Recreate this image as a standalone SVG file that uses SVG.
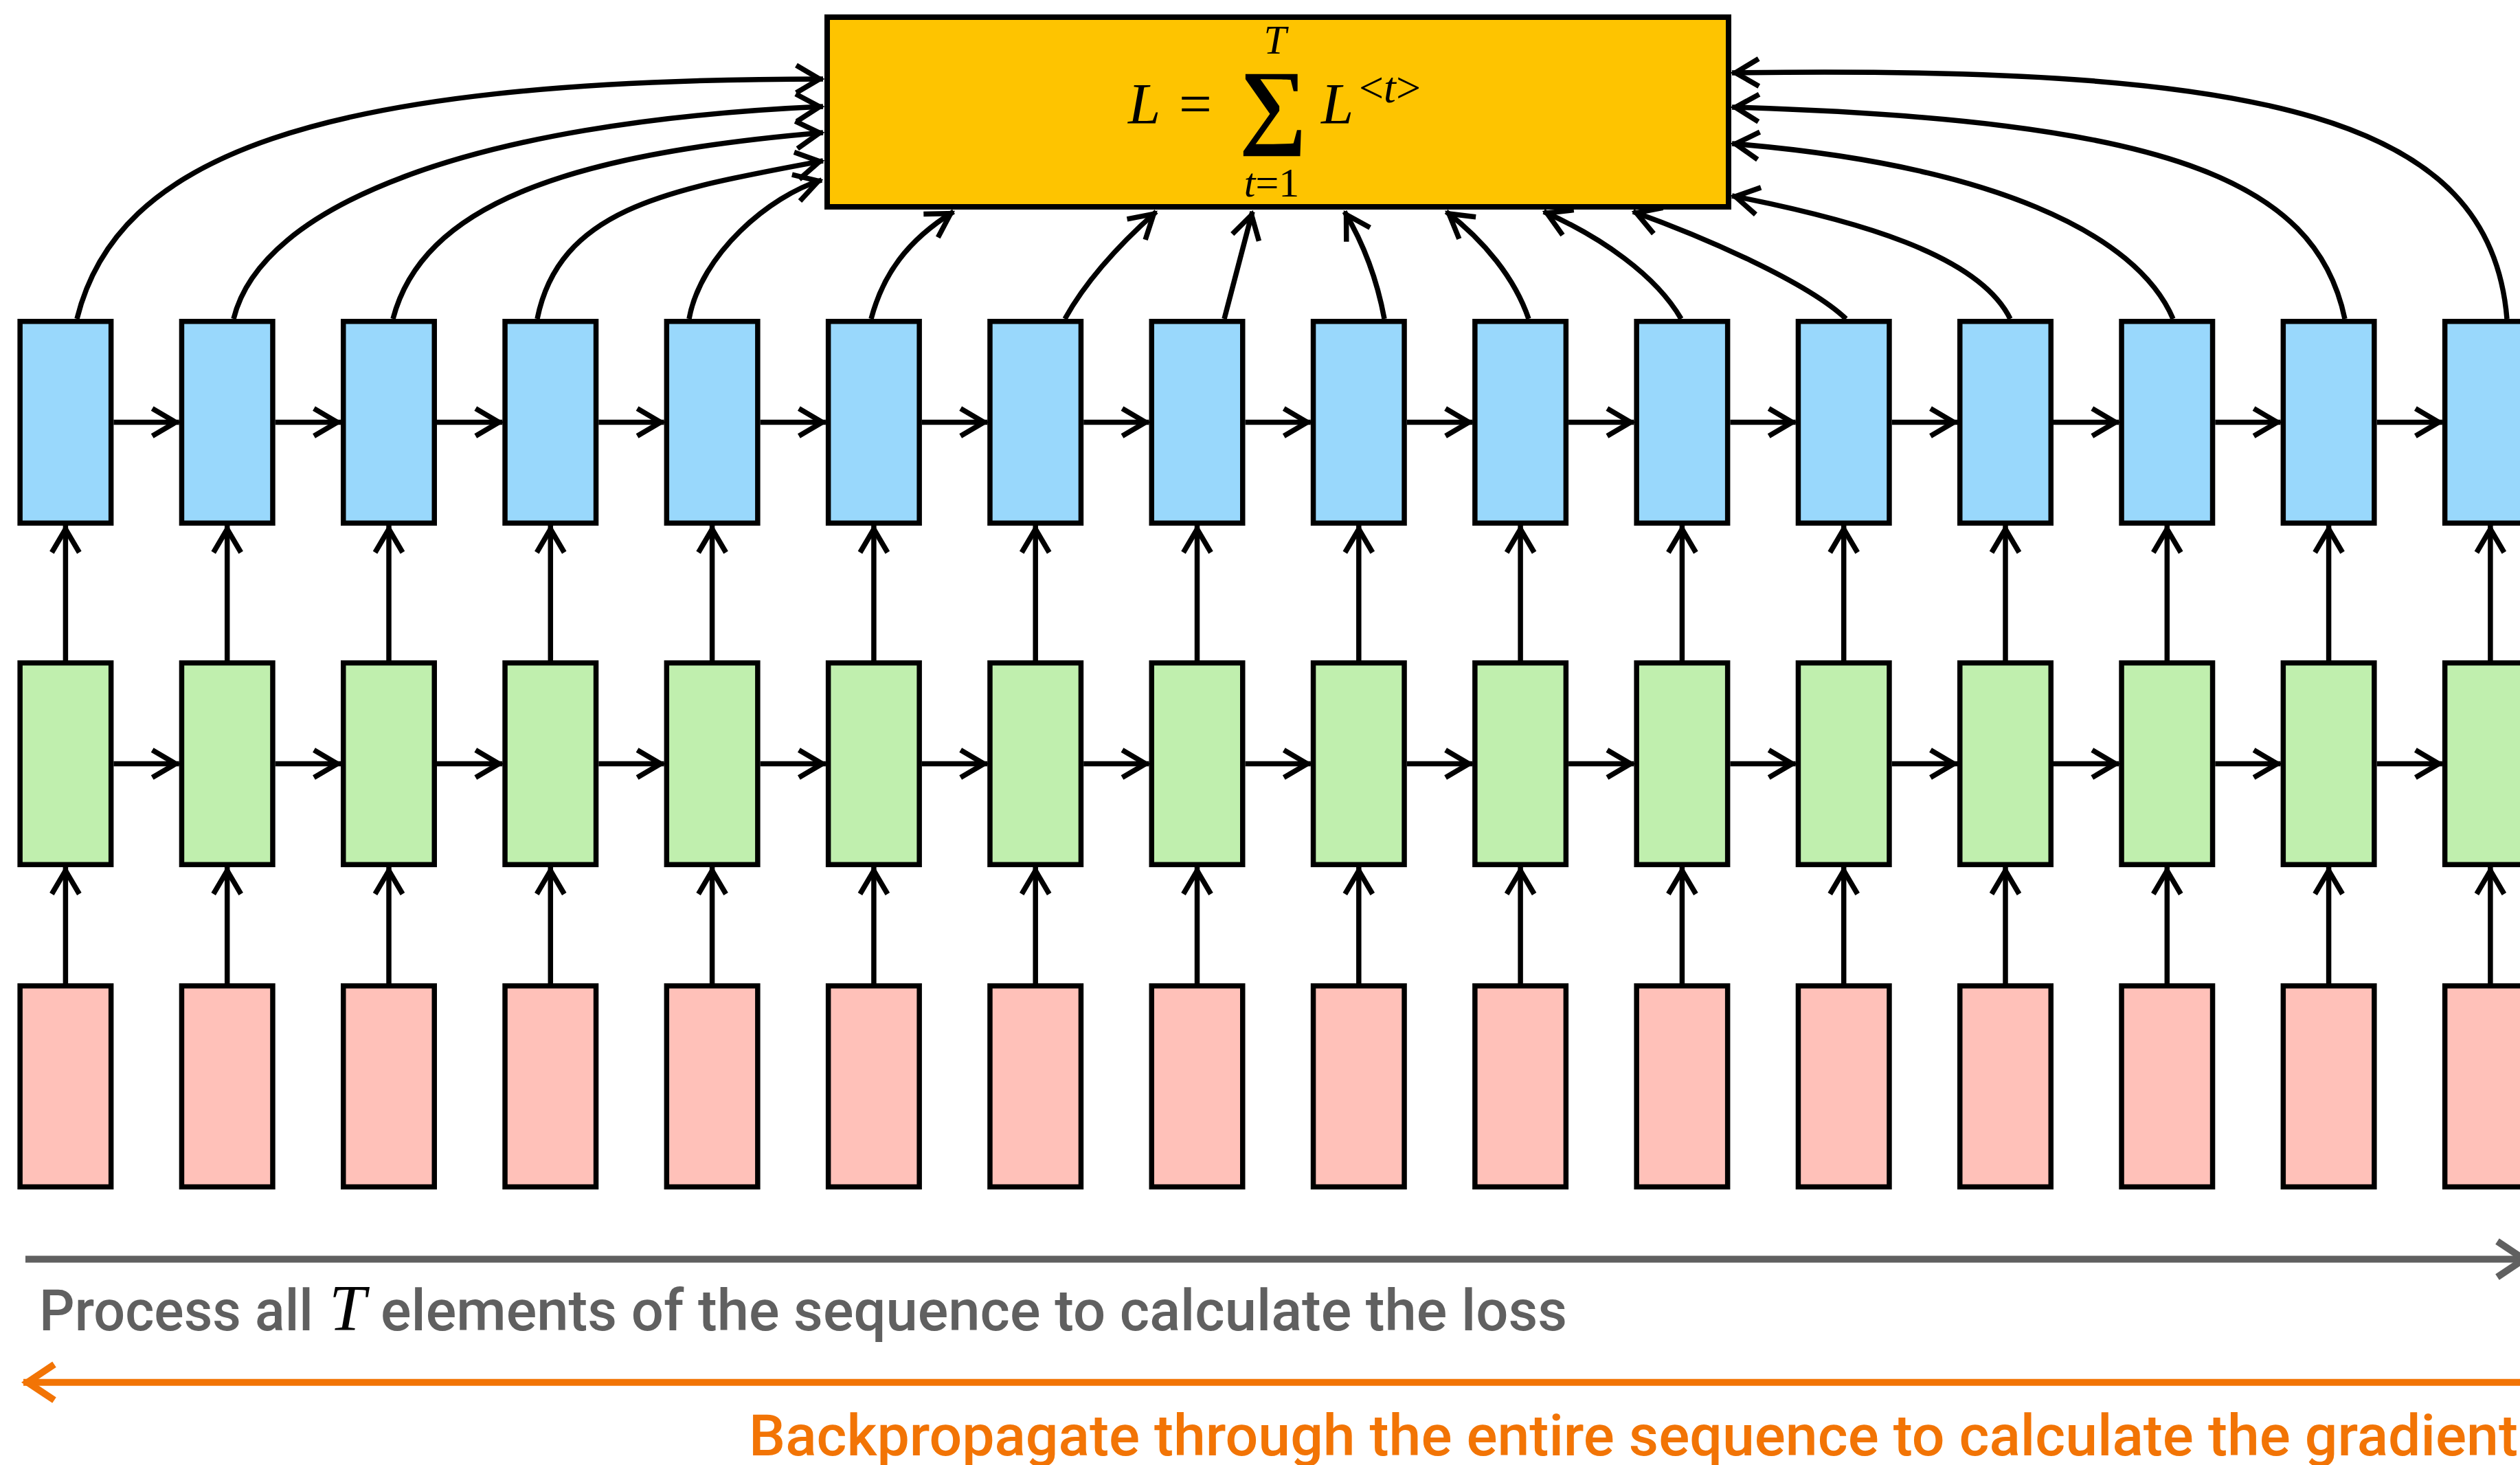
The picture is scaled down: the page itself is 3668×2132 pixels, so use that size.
<svg xmlns="http://www.w3.org/2000/svg" width="3668" height="2132" viewBox="0 0 3668 2132">
  <style>
    .box { stroke: #000; stroke-width: 7.5; }
    .h { fill: #99D8FC; }
    .s { fill: #C0EFAE; }
    .x { fill: #FFC1B9; }
    .loss { fill: #FEC400; stroke: #000; stroke-width: 8; }
    .edge { fill: none; stroke: #000; stroke-width: 7.5; marker-end: url(#ah); }
    .math { font-family: "Liberation Serif", "DejaVu Serif", serif; fill: #000; }
    .it { font-style: italic; }
    .cap { font-family: Roboto, "Liberation Sans", sans-serif; font-weight: 500; font-size: 83px; }
  </style>
  <defs>
    <marker id="ah" markerUnits="userSpaceOnUse" orient="auto" refX="5" refY="0" markerWidth="80" markerHeight="80" viewBox="-50 -40 80 80" overflow="visible">
      <path d="M-34,-20 L0,0 L-34,20" fill="none" stroke="#000" stroke-width="7.5"/>
    </marker>
    <marker id="ahGray" markerUnits="userSpaceOnUse" orient="auto" refX="6" refY="0" markerWidth="90" markerHeight="90" viewBox="-60 -45 90 90" overflow="visible">
      <path d="M-39,-26 L0,0 L-39,26" fill="none" stroke="#606060" stroke-width="10"/>
    </marker>
    <marker id="ahOrange" markerUnits="userSpaceOnUse" orient="auto" refX="6" refY="0" markerWidth="90" markerHeight="90" viewBox="-60 -45 90 90" overflow="visible">
      <path d="M-39,-26 L0,0 L-39,26" fill="none" stroke="#F27405" stroke-width="10"/>
    </marker>
  </defs>

  <!-- loss node -->
  <g id="loss">
    <rect class="loss" x="1204" y="25" width="1312" height="276"/>
    <text class="math it" x="1642" y="180" font-size="85">L</text>
    <text class="math" x="1716" y="180" font-size="85">=</text>
    <text class="math" x="1853" y="198" font-size="138" font-weight="bold" text-anchor="middle">∑</text>
    <text class="math it" x="1856" y="78" font-size="59" text-anchor="middle">T</text>
    <text class="math" x="1851" y="286" font-size="60" text-anchor="middle"><tspan class="it">t</tspan>=1</text>
    <text class="math it" x="1923" y="180" font-size="85">L</text>
    <text class="math" x="1978" y="149" font-size="64">&lt;<tspan class="it">t</tspan>&gt;</text>
  </g>

  <!-- hidden-state row -->
  <g id="h0"><rect class="box h" x="29.15" y="467.75" width="132.5" height="293.5"/></g>
  <g id="h1"><rect class="box h" x="264.45" y="467.75" width="132.5" height="293.5"/></g>
  <g id="h2"><rect class="box h" x="499.75" y="467.75" width="132.5" height="293.5"/></g>
  <g id="h3"><rect class="box h" x="735.05" y="467.75" width="132.5" height="293.5"/></g>
  <g id="h4"><rect class="box h" x="970.35" y="467.75" width="132.5" height="293.5"/></g>
  <g id="h5"><rect class="box h" x="1205.65" y="467.75" width="132.5" height="293.5"/></g>
  <g id="h6"><rect class="box h" x="1440.95" y="467.75" width="132.5" height="293.5"/></g>
  <g id="h7"><rect class="box h" x="1676.25" y="467.75" width="132.5" height="293.5"/></g>
  <g id="h8"><rect class="box h" x="1911.55" y="467.75" width="132.5" height="293.5"/></g>
  <g id="h9"><rect class="box h" x="2146.85" y="467.75" width="132.5" height="293.5"/></g>
  <g id="h10"><rect class="box h" x="2382.15" y="467.75" width="132.5" height="293.5"/></g>
  <g id="h11"><rect class="box h" x="2617.45" y="467.75" width="132.5" height="293.5"/></g>
  <g id="h12"><rect class="box h" x="2852.75" y="467.75" width="132.5" height="293.5"/></g>
  <g id="h13"><rect class="box h" x="3088.05" y="467.75" width="132.5" height="293.5"/></g>
  <g id="h14"><rect class="box h" x="3323.35" y="467.75" width="132.5" height="293.5"/></g>
  <g id="h15"><rect class="box h" x="3558.65" y="467.75" width="132.5" height="293.5"/></g>

  <!-- state row -->
  <g id="s0"><rect class="box s" x="29.15" y="964.75" width="132.5" height="293.5"/></g>
  <g id="s1"><rect class="box s" x="264.45" y="964.75" width="132.5" height="293.5"/></g>
  <g id="s2"><rect class="box s" x="499.75" y="964.75" width="132.5" height="293.5"/></g>
  <g id="s3"><rect class="box s" x="735.05" y="964.75" width="132.5" height="293.5"/></g>
  <g id="s4"><rect class="box s" x="970.35" y="964.75" width="132.5" height="293.5"/></g>
  <g id="s5"><rect class="box s" x="1205.65" y="964.75" width="132.5" height="293.5"/></g>
  <g id="s6"><rect class="box s" x="1440.95" y="964.75" width="132.5" height="293.5"/></g>
  <g id="s7"><rect class="box s" x="1676.25" y="964.75" width="132.5" height="293.5"/></g>
  <g id="s8"><rect class="box s" x="1911.55" y="964.75" width="132.5" height="293.5"/></g>
  <g id="s9"><rect class="box s" x="2146.85" y="964.75" width="132.5" height="293.5"/></g>
  <g id="s10"><rect class="box s" x="2382.15" y="964.75" width="132.5" height="293.5"/></g>
  <g id="s11"><rect class="box s" x="2617.45" y="964.75" width="132.5" height="293.5"/></g>
  <g id="s12"><rect class="box s" x="2852.75" y="964.75" width="132.5" height="293.5"/></g>
  <g id="s13"><rect class="box s" x="3088.05" y="964.75" width="132.5" height="293.5"/></g>
  <g id="s14"><rect class="box s" x="3323.35" y="964.75" width="132.5" height="293.5"/></g>
  <g id="s15"><rect class="box s" x="3558.65" y="964.75" width="132.5" height="293.5"/></g>

  <!-- input row -->
  <g id="x0"><rect class="box x" x="29.15" y="1434.75" width="132.5" height="292.5"/></g>
  <g id="x1"><rect class="box x" x="264.45" y="1434.75" width="132.5" height="292.5"/></g>
  <g id="x2"><rect class="box x" x="499.75" y="1434.75" width="132.5" height="292.5"/></g>
  <g id="x3"><rect class="box x" x="735.05" y="1434.75" width="132.5" height="292.5"/></g>
  <g id="x4"><rect class="box x" x="970.35" y="1434.75" width="132.5" height="292.5"/></g>
  <g id="x5"><rect class="box x" x="1205.65" y="1434.75" width="132.5" height="292.5"/></g>
  <g id="x6"><rect class="box x" x="1440.95" y="1434.75" width="132.5" height="292.5"/></g>
  <g id="x7"><rect class="box x" x="1676.25" y="1434.75" width="132.5" height="292.5"/></g>
  <g id="x8"><rect class="box x" x="1911.55" y="1434.75" width="132.5" height="292.5"/></g>
  <g id="x9"><rect class="box x" x="2146.85" y="1434.75" width="132.5" height="292.5"/></g>
  <g id="x10"><rect class="box x" x="2382.15" y="1434.75" width="132.5" height="292.5"/></g>
  <g id="x11"><rect class="box x" x="2617.45" y="1434.75" width="132.5" height="292.5"/></g>
  <g id="x12"><rect class="box x" x="2852.75" y="1434.75" width="132.5" height="292.5"/></g>
  <g id="x13"><rect class="box x" x="3088.05" y="1434.75" width="132.5" height="292.5"/></g>
  <g id="x14"><rect class="box x" x="3323.35" y="1434.75" width="132.5" height="292.5"/></g>
  <g id="x15"><rect class="box x" x="3558.65" y="1434.75" width="132.5" height="292.5"/></g>

  <g id="connectors">
    <!-- input to state -->
    <path class="edge" d="M95.4,1431 V1262"/>
    <path class="edge" d="M330.7,1431 V1262"/>
    <path class="edge" d="M566,1431 V1262"/>
    <path class="edge" d="M801.3,1431 V1262"/>
    <path class="edge" d="M1036.6,1431 V1262"/>
    <path class="edge" d="M1271.9,1431 V1262"/>
    <path class="edge" d="M1507.2,1431 V1262"/>
    <path class="edge" d="M1742.5,1431 V1262"/>
    <path class="edge" d="M1977.8,1431 V1262"/>
    <path class="edge" d="M2213.1,1431 V1262"/>
    <path class="edge" d="M2448.4,1431 V1262"/>
    <path class="edge" d="M2683.7,1431 V1262"/>
    <path class="edge" d="M2919,1431 V1262"/>
    <path class="edge" d="M3154.3,1431 V1262"/>
    <path class="edge" d="M3389.6,1431 V1262"/>
    <path class="edge" d="M3624.9,1431 V1262"/>
    <!-- state to hidden -->
    <path class="edge" d="M95.4,961 V765"/>
    <path class="edge" d="M330.7,961 V765"/>
    <path class="edge" d="M566,961 V765"/>
    <path class="edge" d="M801.3,961 V765"/>
    <path class="edge" d="M1036.6,961 V765"/>
    <path class="edge" d="M1271.9,961 V765"/>
    <path class="edge" d="M1507.2,961 V765"/>
    <path class="edge" d="M1742.5,961 V765"/>
    <path class="edge" d="M1977.8,961 V765"/>
    <path class="edge" d="M2213.1,961 V765"/>
    <path class="edge" d="M2448.4,961 V765"/>
    <path class="edge" d="M2683.7,961 V765"/>
    <path class="edge" d="M2919,961 V765"/>
    <path class="edge" d="M3154.3,961 V765"/>
    <path class="edge" d="M3389.6,961 V765"/>
    <path class="edge" d="M3624.9,961 V765"/>
    <!-- recurrence, hidden row -->
    <path class="edge" d="M165.4,614.5 H260.7"/>
    <path class="edge" d="M400.7,614.5 H496"/>
    <path class="edge" d="M636,614.5 H731.3"/>
    <path class="edge" d="M871.3,614.5 H966.6"/>
    <path class="edge" d="M1106.6,614.5 H1201.9"/>
    <path class="edge" d="M1341.9,614.5 H1437.2"/>
    <path class="edge" d="M1577.2,614.5 H1672.5"/>
    <path class="edge" d="M1812.5,614.5 H1907.8"/>
    <path class="edge" d="M2047.8,614.5 H2143.1"/>
    <path class="edge" d="M2283.1,614.5 H2378.4"/>
    <path class="edge" d="M2518.4,614.5 H2613.7"/>
    <path class="edge" d="M2753.7,614.5 H2849"/>
    <path class="edge" d="M2989,614.5 H3084.3"/>
    <path class="edge" d="M3224.3,614.5 H3319.6"/>
    <path class="edge" d="M3459.6,614.5 H3554.9"/>
    <!-- recurrence, state row -->
    <path class="edge" d="M165.4,1111.5 H260.7"/>
    <path class="edge" d="M400.7,1111.5 H496"/>
    <path class="edge" d="M636,1111.5 H731.3"/>
    <path class="edge" d="M871.3,1111.5 H966.6"/>
    <path class="edge" d="M1106.6,1111.5 H1201.9"/>
    <path class="edge" d="M1341.9,1111.5 H1437.2"/>
    <path class="edge" d="M1577.2,1111.5 H1672.5"/>
    <path class="edge" d="M1812.5,1111.5 H1907.8"/>
    <path class="edge" d="M2047.8,1111.5 H2143.1"/>
    <path class="edge" d="M2283.1,1111.5 H2378.4"/>
    <path class="edge" d="M2518.4,1111.5 H2613.7"/>
    <path class="edge" d="M2753.7,1111.5 H2849"/>
    <path class="edge" d="M2989,1111.5 H3084.3"/>
    <path class="edge" d="M3224.3,1111.5 H3319.6"/>
    <path class="edge" d="M3459.6,1111.5 H3554.9"/>
    <!-- per-step losses into the sum -->
    <path class="edge" d="M112,464 C170,230 450,115 1198,115"/>
    <path class="edge" d="M340,464 C380,300 680,178 1198,155"/>
    <path class="edge" d="M572,464 C615,300 820,225 1198,193"/>
    <path class="edge" d="M782,464 C815,300 980,275 1198,234"/>
    <path class="edge" d="M1003,464 C1020,370 1120,285 1196,262"/>
    <path class="edge" d="M1268,464 C1285,400 1320,350 1388,308"/>
    <path class="edge" d="M1550,464 C1580,410 1630,355 1683,308"/>
    <path class="edge" d="M1782,464 L1823,308"/>
    <path class="edge" d="M2015,464 C2005,410 1985,355 1957,308"/>
    <path class="edge" d="M2225,464 C2205,405 2160,350 2105,308"/>
    <path class="edge" d="M2447,464 C2410,400 2330,345 2247,308"/>
    <path class="edge" d="M2687,464 C2630,410 2480,345 2377,308"/>
    <path class="edge" d="M2926,464 C2880,370 2700,320 2521,285"/>
    <path class="edge" d="M3163,464 C3110,340 2900,240 2521,209"/>
    <path class="edge" d="M3413,464 C3370,260 3150,175 2521,156"/>
    <path class="edge" d="M3649,464 C3625,170 3300,95 2521,106"/>
  </g>

  <!-- forward pass -->
  <g id="forward">
    <path d="M37,1832.5 H3680" fill="none" stroke="#606060" stroke-width="10" marker-end="url(#ahGray)"/>
    <text class="cap" x="57" y="1935.7" fill="#606060" textLength="399" lengthAdjust="spacingAndGlyphs">Process all</text>
    <text class="math it" x="479" y="1935.7" font-size="96" fill="#606060">T</text>
    <text class="cap" x="554" y="1935.7" fill="#606060" textLength="1727" lengthAdjust="spacingAndGlyphs">elements of the sequence to calculate the loss</text>
  </g>

  <!-- backward pass -->
  <g id="backward">
    <path d="M3700,2011.7 H34" fill="none" stroke="#F27405" stroke-width="10" marker-end="url(#ahOrange)"/>
    <text class="cap" x="1090" y="2118" fill="#F27405" textLength="2575" lengthAdjust="spacingAndGlyphs">Backpropagate through the entire sequence to calculate the gradient</text>
  </g>
</svg>
